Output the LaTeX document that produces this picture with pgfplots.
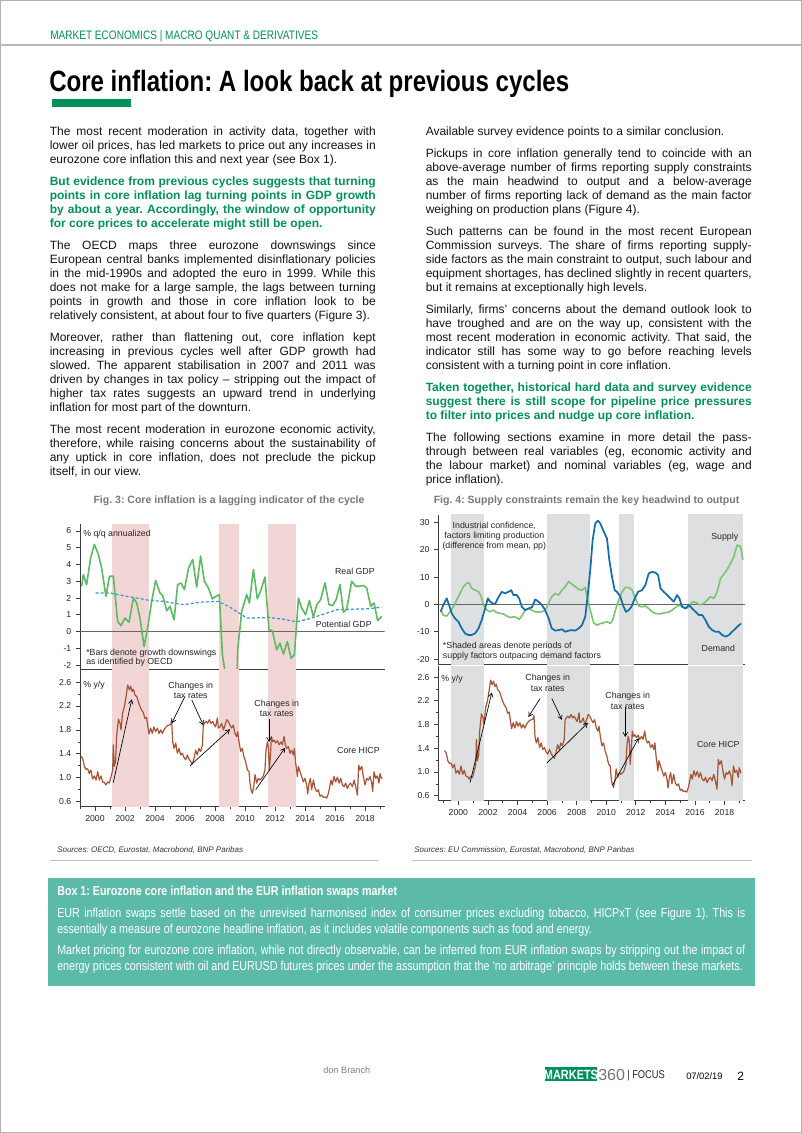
\documentclass[border=0pt]{standalone}
\usepackage{fontspec}
\setmainfont{Liberation Sans}
\newfontfamily\narrowfont{Liberation Sans}[FakeStretch=0.82]
\usepackage{pgfplots}
\usepackage{pgfplotstable}
\pgfplotsset{compat=1.18}
\usetikzlibrary{arrows.meta}
\frenchspacing
\definecolor{bnpgreen}{RGB}{0,145,90}
\definecolor{pinkbar}{RGB}{242,214,214}
\definecolor{graybar}{RGB}{221,223,224}
\definecolor{gdpgreen}{RGB}{95,185,100}
\definecolor{potblue}{RGB}{55,145,205}
\definecolor{hicpbrown}{RGB}{165,85,55}
\definecolor{demblue}{RGB}{20,110,165}
\definecolor{supgreen}{RGB}{125,195,115}
\definecolor{axisc}{RGB}{60,60,60}
\definecolor{boxteal}{RGB}{92,187,168}
\definecolor{figgray}{RGB}{120,120,120}
\definecolor{bodyc}{RGB}{20,20,20}
\newlength\px \setlength\px{0.75pt}
\newcommand\jline[3]{\node[anchor=base west,inner sep=0pt] at (#1,#2) {\makebox[326\px][s]{#3}};}
\newcommand\tline[3]{\node[anchor=base west,inner sep=0pt] at (#1,#2) {#3};}
\newcommand\bline[3]{\node[anchor=base west,inner sep=0pt] at (#1,#2) {\makebox[688\px][s]{#3}};}

\pgfplotstableread{
x y
1999.11 2.7
1999.22 3.4
1999.44 2.8
1999.71 4.4
1999.96 5.2
2000.22 4.6
2000.44 3.8
2000.73 2.1
2000.96 3.3
2001.22 3.3
2001.51 0.6
2001.73 0.35
2002.00 0.8
2002.27 0.55
2002.56 2.0
2002.78 1.7
2003.00 0.8
2003.27 -0.9
2003.49 0.1
2003.78 1.8
2004.04 3.05
2004.33 2.3
2004.51 2.15
2004.78 1.25
2005.00 1.5
2005.27 0.7
2005.51 2.8
2005.73 2.9
2005.96 2.5
2006.24 3.8
2006.51 4.3
2006.78 2.65
2007.04 4.5
2007.29 3.0
2007.56 2.6
2007.82 1.95
2008.07 2.1
2008.29 2.2
2008.49 -1.4
2008.71 -2.6
2009.00 -6.5
2009.27 -11.0
2009.51 -1.1
2009.78 1.2
2010.11 2.2
2010.29 1.7
2010.56 3.7
2010.82 1.95
2011.07 2.5
2011.33 3.25
2011.60 0.1
2011.82 0.05
2012.11 -1.1
2012.33 -0.7
2012.56 -1.35
2012.82 -0.6
2013.07 -1.6
2013.29 -1.4
2013.56 2.0
2013.78 1.4
2014.04 1.0
2014.29 1.85
2014.56 0.85
2014.78 1.6
2015.04 1.9
2015.33 2.9
2015.60 1.6
2015.84 1.55
2016.07 1.9
2016.33 2.8
2016.56 1.15
2016.78 1.35
2017.11 3.0
2017.38 2.7
2017.62 2.7
2017.89 2.75
2018.11 2.6
2018.38 1.5
2018.60 1.7
2018.84 0.65
2019.11 0.9
}\gdp

\pgfplotstableread{
x y
2000.04 2.3
2001.00 2.3
2002.11 2.1
2002.78 2.0
2003.67 1.85
2004.56 1.8
2005.89 1.6
2007.00 1.75
2008.22 1.8
2009.00 1.45
2009.78 1.0
2010.11 0.8
2011.67 0.83
2012.56 0.73
2013.44 0.58
2014.33 0.77
2015.22 1.03
2016.11 1.3
2017.00 1.33
2018.11 1.35
2019.11 1.45
}\potgdp

\pgfplotstableread{
x y
1999.07 1.36
1999.18 1.32
1999.29 1.19
1999.40 1.14
1999.51 1.15
1999.62 1.07
1999.73 1.13
1999.84 0.98
1999.96 1.03
2000.07 0.96
2000.18 1.10
2000.29 0.96
2000.40 1.03
2000.51 0.93
2000.62 0.92
2000.73 0.88
2000.84 0.93
2000.96 0.91
2001.07 1.02
2001.18 1.13
2001.22 1.55
2001.29 1.19
2001.38 1.30
2001.44 1.69
2001.56 1.98
2001.67 1.91
2001.73 1.80
2001.84 2.08
2001.96 2.19
2002.07 2.36
2002.18 2.55
2002.29 2.47
2002.38 2.53
2002.47 2.44
2002.56 2.48
2002.67 2.38
2002.78 2.36
2002.89 2.27
2003.00 2.19
2003.11 2.13
2003.22 2.09
2003.33 1.99
2003.44 2.01
2003.51 1.88
2003.60 1.73
2003.71 1.83
2003.82 1.74
2003.93 1.85
2004.04 1.77
2004.16 1.83
2004.27 1.74
2004.38 1.80
2004.49 1.74
2004.60 1.80
2004.71 1.84
2004.82 1.87
2004.93 1.88
2005.04 1.89
2005.11 1.95
2005.18 1.60
2005.27 1.49
2005.38 1.58
2005.49 1.41
2005.60 1.49
2005.71 1.38
2005.82 1.41
2005.93 1.34
2006.04 1.30
2006.16 1.38
2006.27 1.31
2006.38 1.27
2006.49 1.23
2006.60 1.32
2006.71 1.46
2006.82 1.38
2006.93 1.49
2007.04 1.44
2007.16 1.55
2007.22 1.88
2007.29 1.91
2007.40 1.94
2007.51 1.91
2007.62 1.97
2007.73 1.91
2007.84 1.94
2007.96 1.88
2008.04 1.85
2008.16 2.00
2008.22 1.83
2008.33 1.85
2008.44 1.91
2008.56 1.80
2008.67 1.88
2008.78 1.97
2008.89 1.94
2009.00 1.88
2009.11 1.83
2009.22 1.88
2009.33 1.74
2009.44 1.69
2009.51 1.77
2009.60 1.60
2009.71 1.44
2009.82 1.49
2009.93 1.35
2010.04 1.27
2010.16 1.13
2010.27 1.10
2010.33 0.91
2010.40 0.80
2010.49 0.74
2010.58 0.85
2010.67 1.05
2010.78 0.91
2010.89 0.99
2011.00 0.96
2011.11 0.99
2011.22 1.03
2011.33 1.13
2011.40 1.46
2011.49 1.60
2011.56 1.51
2011.62 1.13
2011.69 1.35
2011.76 1.69
2011.84 1.60
2011.93 1.63
2012.04 1.58
2012.16 1.62
2012.27 1.55
2012.38 1.60
2012.49 1.55
2012.60 1.69
2012.69 1.55
2012.78 1.49
2012.89 1.52
2013.00 1.41
2013.11 1.46
2013.22 1.38
2013.29 1.49
2013.38 1.24
2013.44 1.13
2013.49 1.02
2013.56 1.19
2013.67 1.10
2013.78 1.02
2013.89 0.93
2014.00 0.99
2014.11 0.88
2014.18 0.73
2014.27 0.91
2014.36 0.99
2014.44 0.80
2014.56 0.96
2014.67 0.82
2014.78 0.77
2014.89 0.80
2015.00 0.69
2015.11 0.71
2015.22 0.67
2015.33 0.68
2015.44 0.66
2015.56 0.74
2015.67 0.88
2015.73 0.96
2015.82 0.88
2015.93 1.02
2016.04 0.93
2016.16 1.01
2016.27 0.91
2016.38 0.99
2016.49 0.88
2016.60 0.85
2016.71 0.91
2016.82 0.82
2016.93 0.88
2017.04 0.91
2017.16 0.85
2017.27 0.96
2017.38 0.85
2017.49 0.71
2017.58 1.21
2017.67 1.13
2017.78 1.19
2017.89 1.02
2018.00 0.88
2018.11 0.99
2018.22 0.96
2018.33 1.02
2018.44 0.92
2018.51 0.77
2018.60 1.10
2018.71 0.99
2018.82 1.03
2018.93 0.91
2019.00 1.07
2019.11 0.98
}\hicp

\pgfplotstableread{
x y
1998.80 -2.1
1998.98 -3.9
1999.21 -4.3
1999.44 -2.7
1999.66 -0.9
1999.89 1.6
2000.11 4.0
2000.34 6.5
2000.57 7.7
2000.72 7.9
2000.90 5.9
2001.13 5.2
2001.36 4.6
2001.54 3.0
2001.69 -0.2
2001.92 -2.1
2002.15 -2.7
2002.37 -2.1
2002.60 -3.0
2002.82 -3.3
2003.05 -3.5
2003.28 -4.3
2003.50 -4.8
2003.73 -4.5
2003.95 -4.8
2004.11 -5.5
2004.29 -4.3
2004.52 -2.1
2004.74 -1.5
2004.97 -2.1
2005.20 -2.7
2005.42 -2.8
2005.65 -2.7
2005.87 -2.1
2006.10 0.4
2006.32 2.8
2006.55 4.0
2006.78 3.4
2007.00 5.2
2007.23 6.5
2007.45 8.3
2007.68 7.4
2007.91 6.5
2008.13 5.5
2008.36 5.2
2008.58 6.2
2008.76 1.0
2008.92 -2.1
2009.15 -6.7
2009.37 -7.6
2009.60 -7.0
2009.83 -6.7
2010.05 -6.3
2010.28 -7.0
2010.44 -5.7
2010.62 -2.1
2010.84 1.6
2011.07 4.6
2011.29 6.2
2011.52 6.2
2011.75 5.2
2011.97 2.2
2012.20 -0.6
2012.42 -0.9
2012.65 -0.6
2012.87 -1.5
2013.10 -2.7
2013.33 -3.3
2013.55 -3.5
2013.78 -3.3
2014.00 -3.0
2014.23 -2.8
2014.46 -2.1
2014.68 -1.1
2014.91 -0.4
2015.13 -0.6
2015.36 -1.5
2015.59 -0.9
2015.77 0.6
2015.92 1.0
2016.15 0.4
2016.38 -0.2
2016.60 0.4
2016.83 1.6
2017.05 2.8
2017.28 2.2
2017.50 4.6
2017.73 9.5
2017.96 11.1
2018.18 12.8
2018.41 15.0
2018.63 17.4
2018.75 19.9
2018.86 21.7
2019.09 21.1
2019.24 16.2
}\supply

\pgfplotstableread{
x y
1998.80 -2.7
1998.98 -0.2
1999.21 2.2
1999.37 -0.2
1999.55 -3.3
1999.77 -5.1
2000.00 -6.3
2000.23 -8.8
2000.45 -10.6
2000.68 -11.2
2000.90 -11.2
2001.13 -10.6
2001.36 -8.8
2001.58 -5.7
2001.81 -1.5
2001.99 2.2
2002.15 1.0
2002.30 0.4
2002.48 0.1
2002.71 2.6
2002.94 4.6
2003.16 4.0
2003.39 4.6
2003.57 5.2
2003.73 3.4
2003.95 3.4
2004.11 2.2
2004.29 -0.9
2004.52 -2.1
2004.74 -1.5
2004.97 -1.1
2005.20 1.8
2005.42 1.0
2005.65 -0.2
2005.87 -2.1
2006.10 -5.1
2006.32 -8.8
2006.55 -9.6
2006.78 -9.4
2007.00 -9.1
2007.23 -10.0
2007.45 -9.6
2007.68 -9.4
2007.91 -9.6
2008.13 -8.8
2008.36 -7.6
2008.58 -4.5
2008.76 4.0
2008.92 12.6
2009.08 23.5
2009.26 29.6
2009.44 30.6
2009.60 29.6
2009.83 26.6
2010.05 24.1
2010.21 16.2
2010.39 10.1
2010.57 5.2
2010.73 4.6
2010.95 2.8
2011.18 -0.9
2011.34 -2.7
2011.52 -2.1
2011.70 -0.9
2011.93 2.2
2012.15 4.6
2012.42 5.2
2012.65 7.1
2012.87 11.3
2013.10 11.9
2013.33 11.6
2013.51 10.7
2013.67 5.9
2013.89 4.6
2014.12 3.4
2014.34 2.2
2014.57 1.0
2014.79 3.4
2014.95 2.2
2015.13 -0.9
2015.36 -1.5
2015.59 -0.2
2015.81 -1.5
2016.04 -2.7
2016.26 -3.9
2016.49 -3.9
2016.71 -5.7
2016.94 -8.2
2017.17 -9.4
2017.39 -10.0
2017.62 -10.0
2017.84 -11.2
2018.07 -11.8
2018.30 -11.2
2018.52 -10.0
2018.75 -8.8
2018.97 -7.6
2019.13 -7.0
}\demand

\pgfplotsset{panel/.style={scale only axis, anchor=south west,
  axis x line*=bottom, axis y line*=left, tick align=outside,
  axis line style={draw=axisc, line width=0.6pt},
  tick style={draw=axisc, line width=0.5pt},
  major tick length=3pt, minor tick length=1.8pt,
  tick label style={font=\fontsize{6.5}{7}\selectfont, text=black!85}}}
\tikzset{arr/.style={black, line width=0.5pt, -{Straight Barb[length=3pt,width=3.5pt]}}}

\begin{document}
\begin{tikzpicture}
\begin{scope}[x=0.75pt,y=-0.75pt]
\useasboundingbox (0,0) rectangle (802,1133);
\fill[white] (0,0) rectangle (802,1133);
\draw[gray!60, line width=0.75pt] (0.5,0.5) rectangle (801.5,1132.5);
% header
\node[anchor=base west, inner sep=0pt, text=bnpgreen, font=\narrowfont\fontsize{9.2}{10}\selectfont] at (50,39.5) {MARKET ECONOMICS | MACRO QUANT \& DERIVATIVES};
\draw[gray!55, line width=1.5pt] (0,44.5) -- (802,44.5);
\node[anchor=base west, inner sep=0pt, text=black, font=\narrowfont\bfseries\fontsize{22}{26}\selectfont] at (49,91) {Core inflation: A look back at previous cycles};
\fill[bnpgreen] (52,99) rectangle (131,106.5);
% left column
\begin{scope}[font=\fontsize{9}{10.5}\selectfont, text=bodyc]
\jline{49.5}{135}{The most recent moderation in activity data, together with}
\jline{49.5}{149}{lower oil prices, has led markets to price out any increases in}
\tline{49.5}{163}{eurozone core inflation this and next year (see Box 1).}
\jline{49.5}{249}{The OECD maps three eurozone downswings since}
\jline{49.5}{263}{European central banks implemented disinflationary policies}
\jline{49.5}{277}{in the mid-1990s and adopted the euro in 1999. While this}
\jline{49.5}{291}{does not make for a large sample, the lags between turning}
\jline{49.5}{305}{points in growth and those in core inflation look to be}
\tline{49.5}{319}{relatively consistent, at about four to five quarters (Figure 3).}
\jline{49.5}{341}{Moreover, rather than flattening out, core inflation kept}
\jline{49.5}{355}{increasing in previous cycles well after GDP growth had}
\jline{49.5}{369}{slowed. The apparent stabilisation in 2007 and 2011 was}
\jline{49.5}{383}{driven by changes in tax policy – stripping out the impact of}
\jline{49.5}{397}{higher tax rates suggests an upward trend in underlying}
\tline{49.5}{411}{inflation for most part of the downturn.}
\jline{49.5}{433}{The most recent moderation in eurozone economic activity,}
\jline{49.5}{447}{therefore, while raising concerns about the sustainability of}
\jline{49.5}{461}{any uptick in core inflation, does not preclude the pickup}
\tline{49.5}{475}{itself, in our view.}
% right column
\tline{425.5}{135}{Available survey evidence points to a similar conclusion.}
\jline{425.5}{157}{Pickups in core inflation generally tend to coincide with an}
\jline{425.5}{171}{above-average number of firms reporting supply constraints}
\jline{425.5}{185}{as the main headwind to output and a below-average}
\jline{425.5}{199}{number of firms reporting lack of demand as the main factor}
\tline{425.5}{213}{weighing on production plans (Figure 4).}
\jline{425.5}{235}{Such patterns can be found in the most recent European}
\jline{425.5}{249}{Commission surveys. The share of firms reporting supply-}
\jline{425.5}{263}{side factors as the main constraint to output, such labour and}
\jline{425.5}{277}{equipment shortages, has declined slightly in recent quarters,}
\tline{425.5}{291}{but it remains at exceptionally high levels.}
\jline{425.5}{313}{Similarly, firms’ concerns about the demand outlook look to}
\jline{425.5}{327}{have troughed and are on the way up, consistent with the}
\jline{425.5}{341}{most recent moderation in economic activity. That said, the}
\jline{425.5}{355}{indicator still has some way to go before reaching levels}
\tline{425.5}{369}{consistent with a turning point in core inflation.}
\jline{425.5}{441}{The following sections examine in more detail the pass-}
\jline{425.5}{455}{through between real variables (eg, economic activity and}
\jline{425.5}{469}{the labour market) and nominal variables (eg, wage and}
\tline{425.5}{483}{price inflation).}
\end{scope}
\begin{scope}[font=\fontsize{9}{10.5}\selectfont\bfseries, text=bnpgreen]
\jline{49.5}{185}{But evidence from previous cycles suggests that turning}
\jline{49.5}{199}{points in core inflation lag turning points in GDP growth}
\jline{49.5}{213}{by about a year. Accordingly, the window of opportunity}
\tline{49.5}{227}{for core prices to accelerate might still be open.}
\jline{425.5}{391}{Taken together, historical hard data and survey evidence}
\jline{425.5}{405}{suggest there is still scope for pipeline price pressures}
\tline{425.5}{419}{to filter into prices and nudge up core inflation.}
\end{scope}
% figure titles
\node[anchor=base, inner sep=0pt, text=figgray, font=\fontsize{7.9}{9}\selectfont\bfseries] at (229,503.5) {Fig. 3: Core inflation is a lagging indicator of the cycle};
\node[anchor=base, inner sep=0pt, text=figgray, font=\fontsize{7.9}{9}\selectfont\bfseries] at (586.5,503.5) {Fig. 4: Supply constraints remain the key headwind to output};
% sources
\node[anchor=base west, inner sep=0pt, text=black!80, font=\fontsize{6}{7}\selectfont\itshape] at (57,852) {Sources: OECD, Eurostat, Macrobond, BNP Paribas};
\node[anchor=base west, inner sep=0pt, text=black!80, font=\fontsize{6}{7}\selectfont\itshape] at (414,852) {Sources: EU Commission, Eurostat, Macrobond, BNP Paribas};
\draw[gray!50, line width=0.75pt] (50,860) -- (378,860);
\draw[gray!50, line width=0.75pt] (412,860) -- (752,860);
% box
\fill[boxteal] (48,878) rectangle (755,986);
\begin{scope}[text=white, font=\narrowfont\fontsize{9.8}{11}\selectfont]
\tline{57}{895}{\bfseries Box 1: Eurozone core inflation and the EUR inflation swaps market}
\bline{57}{917}{EUR inflation swaps settle based on the unrevised harmonised index of consumer prices excluding tobacco, HICPxT (see Figure 1). This is}
\tline{57}{933}{essentially a measure of eurozone headline inflation, as it includes volatile components such as food and energy.}
\bline{57}{954}{Market pricing for eurozone core inflation, while not directly observable, can be inferred from EUR inflation swaps by stripping out the impact of}
\tline{57}{970}{energy prices consistent with oil and EURUSD futures prices under the assumption that the ‘no arbitrage’ principle holds between these markets.}
\end{scope}
% footer
\node[anchor=base west, inner sep=0pt, text=gray, font=\fontsize{6.9}{8}\selectfont] at (323,1073) {don Branch};
\fill[bnpgreen] (545,1067) rectangle (597,1081);
\node[anchor=center, inner sep=0pt, text=white, font=\narrowfont\bfseries\fontsize{10}{11}\selectfont] at (571,1074.5) {MARKETS};
\node[anchor=base west, inner sep=0pt, text=gray!90!black, font=\fontsize{12}{13}\selectfont] at (598,1080) {360};
\node[anchor=base west, inner sep=0pt, text=black!85, font=\narrowfont\fontsize{8.5}{10}\selectfont] at (627,1078) {| FOCUS};
\node[anchor=base west, inner sep=0pt, text=black, font=\fontsize{7}{8}\selectfont] at (686,1079) {07/02/19};
\node[anchor=base west, inner sep=0pt, text=black, font=\fontsize{9}{10}\selectfont] at (737,1080) {2};
\end{scope}

% ---------- Fig 3 top
\begin{axis}[panel, at={(60pt,-501.75pt)}, width=228.4pt, height=108.4pt,
  xmin=1999, xmax=2019.3, ymin=-2.24, ymax=6.39, xtick=\empty,
  ytick={-2,-1,0,1,2,3,4,5,6}, yticklabels={-2,-1,0,1,2,3,4,5,6}]
\addplot[draw=none, fill=pinkbar] coordinates {(2001.16,-3) (2001.16,7) (2003.6,7) (2003.6,-3)};
\addplot[draw=none, fill=pinkbar] coordinates {(2008.27,-3) (2008.27,7) (2009.58,7) (2009.58,-3)};
\addplot[draw=none, fill=pinkbar] coordinates {(2011.56,-3) (2011.56,7) (2013.38,7) (2013.38,-3)};
\addplot[gray!80!black, line width=0.6pt] coordinates {(1999,0) (2019.3,0)};
\addplot[potblue, line width=0.9pt, dash pattern=on 2.2pt off 1.6pt] table {\potgdp};
\addplot[gdpgreen, line width=1.2pt, line join=round] table {\gdp};
\end{axis}
% ---------- Fig 3 bottom
\begin{axis}[panel, at={(60pt,-605pt)}, width=228.4pt, height=102.9pt,
  xmin=1999, xmax=2019.3, ymin=0.516, ymax=2.81,
  xtick={2000,2002,2004,2006,2008,2010,2012,2014,2016,2018},
  xticklabels={2000,2002,2004,2006,2008,2010,2012,2014,2016,2018},
  minor xtick={1999,2001,2003,2005,2007,2009,2011,2013,2015,2017,2019},
  ytick={0.6,1.0,1.4,1.8,2.2,2.6}, yticklabels={0.6,1.0,1.4,1.8,2.2,2.6},
  minor ytick={0.8,1.2,1.6,2.0,2.4}]
\addplot[draw=none, fill=pinkbar] coordinates {(2001.16,0) (2001.16,3) (2003.6,3) (2003.6,0)};
\addplot[draw=none, fill=pinkbar] coordinates {(2008.27,0) (2008.27,3) (2009.58,3) (2009.58,0)};
\addplot[draw=none, fill=pinkbar] coordinates {(2011.56,0) (2011.56,3) (2013.38,3) (2013.38,0)};
\addplot[hicpbrown, line width=0.9pt, line join=round] table {\hicp};
\draw[arr] (axis cs:2001.22,0.92) -- (axis cs:2002.45,2.31);
\draw[arr] (axis cs:2006.0,2.36) -- (axis cs:2005.11,1.91);
\draw[arr] (axis cs:2006.45,2.30) -- (axis cs:2007.22,1.88);
\draw[arr] (axis cs:2006.33,1.20) -- (axis cs:2009.0,1.81);
\draw[arr] (axis cs:2011.6,1.98) -- (axis cs:2011.6,1.60);
\draw[arr] (axis cs:2010.71,0.80) -- (axis cs:2012.67,1.50);
\end{axis}
% ---------- Fig 4 top
\begin{axis}[panel, at={(328.7pt,-498.2pt)}, width=230pt, height=112pt,
  xmin=1998.64, xmax=2019.38, ymin=-21.9, ymax=32.7, xtick=\empty,
  ytick={-20,-10,0,10,20,30}, yticklabels={-20,-10,0,10,20,30}]
\addplot[draw=none, fill=graybar] coordinates {(1999.5,-30) (1999.5,40) (2001.76,40) (2001.76,-30)};
\addplot[draw=none, fill=graybar] coordinates {(2005.96,-30) (2005.96,40) (2008.87,40) (2008.87,-30)};
\addplot[draw=none, fill=graybar] coordinates {(2010.88,-30) (2010.88,40) (2011.9,40) (2011.9,-30)};
\addplot[draw=none, fill=graybar] coordinates {(2015.5,-30) (2015.5,40) (2019.25,40) (2019.25,-30)};
\addplot[gray!80!black, line width=0.6pt] coordinates {(1998.64,0) (2019.38,0)};
\addplot[supgreen, line width=1.2pt, line join=round] table {\supply};
\addplot[demblue, line width=1.3pt, line join=round] table {\demand};
\end{axis}
% ---------- Fig 4 bottom
\begin{axis}[panel, at={(328.7pt,-600.5pt)}, width=230pt, height=101pt,
  xmin=1998.64, xmax=2019.38, ymin=0.516, ymax=2.787,
  xtick={2000,2002,2004,2006,2008,2010,2012,2014,2016,2018},
  xticklabels={2000,2002,2004,2006,2008,2010,2012,2014,2016,2018},
  minor xtick={1999,2001,2003,2005,2007,2009,2011,2013,2015,2017,2019},
  ytick={0.6,1.0,1.4,1.8,2.2,2.6}, yticklabels={0.6,1.0,1.4,1.8,2.2,2.6},
  minor ytick={0.8,1.2,1.6,2.0,2.4}]
\addplot[draw=none, fill=graybar] coordinates {(1999.5,0) (1999.5,3) (2001.76,3) (2001.76,0)};
\addplot[draw=none, fill=graybar] coordinates {(2005.96,0) (2005.96,3) (2008.87,3) (2008.87,0)};
\addplot[draw=none, fill=graybar] coordinates {(2010.88,0) (2010.88,3) (2011.9,3) (2011.9,0)};
\addplot[draw=none, fill=graybar] coordinates {(2015.5,0) (2015.5,3) (2019.25,3) (2019.25,0)};
\addplot[hicpbrown, line width=0.9pt, line join=round] table {\hicp};
\draw[arr] (axis cs:2000.79,0.82) -- (axis cs:2002.26,2.34);
\draw[arr] (axis cs:2005.53,2.24) -- (axis cs:2004.74,1.93);
\draw[arr] (axis cs:2006.32,2.24) -- (axis cs:2007.0,1.88);
\draw[arr] (axis cs:2005.98,1.15) -- (axis cs:2008.76,1.83);
\draw[arr] (axis cs:2011.29,2.10) -- (axis cs:2011.29,1.59);
\draw[arr] (axis cs:2010.43,0.78) -- (axis cs:2012.19,1.57);
\end{axis}

% chart annotations
\begin{scope}[x=0.75pt,y=-0.75pt, font=\fontsize{6.6}{7.5}\selectfont, text=black!85]
\tline{83}{536.5}{\% q/q annualized}
\node[anchor=base east, inner sep=0pt] at (375,574) {Real GDP};
\node[anchor=base east, inner sep=0pt] at (372,627) {Potential GDP};
\tline{86}{655}{*Bars denote growth downswings}
\tline{86}{664.5}{as identified by OECD}
\tline{83}{687}{\% y/y}
\node[anchor=base, inner sep=0pt] at (190.7,688) {Changes in};
\node[anchor=base, inner sep=0pt] at (190.7,698.5) {tax rates};
\node[anchor=base, inner sep=0pt] at (276.7,706) {Changes in};
\node[anchor=base, inner sep=0pt] at (276.7,716.5) {tax rates};
\node[anchor=base east, inner sep=0pt] at (380,753) {Core HICP};
\node[anchor=base, inner sep=0pt] at (494.3,528) {Industrial confidence,};
\node[anchor=base, inner sep=0pt] at (494.3,538) {factors limiting production};
\node[anchor=base, inner sep=0pt] at (494.3,548) {(difference from mean, pp)};
\node[anchor=base, inner sep=0pt] at (724.7,539) {Supply};
\tline{442.7}{648}{*Shaded areas denote periods of}
\tline{442.7}{658}{supply factors outpacing demand factors}
\node[anchor=base, inner sep=0pt] at (718.3,651.5) {Demand};
\tline{441}{681.5}{\% y/y}
\node[anchor=base, inner sep=0pt] at (547.7,680.5) {Changes in};
\node[anchor=base, inner sep=0pt] at (547.7,691.5) {tax rates};
\node[anchor=base, inner sep=0pt] at (627.7,698) {Changes in};
\node[anchor=base, inner sep=0pt] at (627.7,709) {tax rates};
\node[anchor=base, inner sep=0pt] at (718.3,747) {Core HICP};
\end{scope}
\end{tikzpicture}
\end{document}
